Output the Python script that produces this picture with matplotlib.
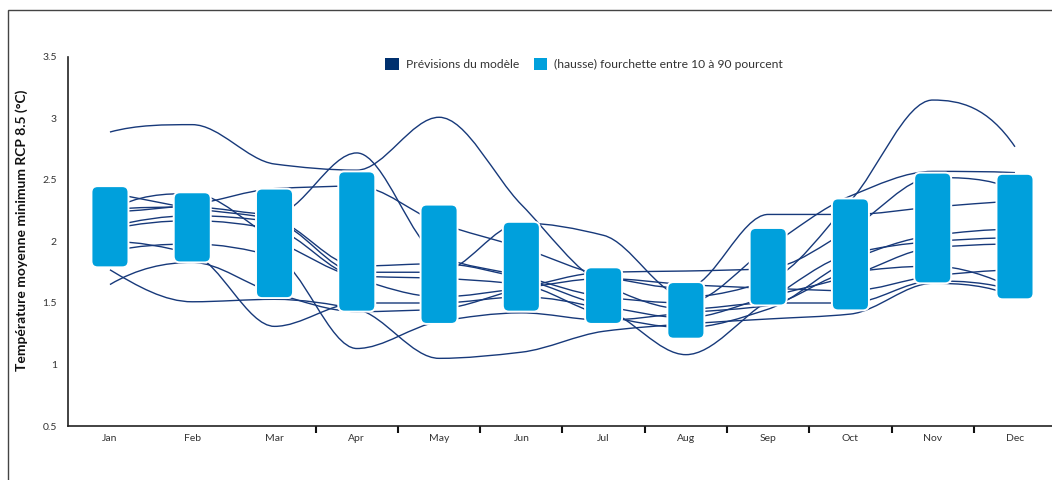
import numpy as np
import matplotlib
matplotlib.use("Agg")
import matplotlib.pyplot as plt
from matplotlib.path import Path
from matplotlib.patches import PathPatch, FancyBboxPatch, Patch, Rectangle

plt.rcParams["font.family"] = ["Lato", "DejaVu Sans"]

# ---- data -----------------------------------------------------------------
months = ["Jan", "Feb", "Mar", "Apr", "May", "Jun",
          "Jul", "Aug", "Sep", "Oct", "Nov", "Dec"]

# 10th / 90th percentile range of the projected increase (°C)
range_p10 = [1.79, 1.83, 1.54, 1.43, 1.33, 1.43, 1.33, 1.21, 1.48, 1.44, 1.66, 1.53]
range_p90 = [2.45, 2.40, 2.43, 2.57, 2.30, 2.16, 1.79, 1.67, 2.11, 2.35, 2.56, 2.55]

# individual model projections (°C)
model_01 = [2.89, 2.95, 2.63, 2.58, 3.01, 2.30, 1.65, 1.45, 1.50, 1.50, 1.68, 1.60]
model_02 = [2.24, 2.30, 2.43, 2.45, 2.15, 1.95, 1.72, 1.62, 2.22, 2.22, 2.28, 2.33]
model_03 = [2.26, 2.28, 2.22, 2.72, 1.88, 1.72, 1.55, 1.50, 1.95, 2.37, 2.57, 2.56]
model_04 = [2.40, 2.27, 2.18, 1.80, 1.82, 1.70, 1.48, 1.38, 1.55, 1.72, 1.95, 1.98]
model_05 = [2.12, 2.21, 2.16, 1.75, 1.75, 2.15, 2.05, 1.55, 1.68, 2.33, 3.15, 2.77]
model_06 = [2.10, 2.17, 2.10, 1.72, 1.70, 1.65, 1.40, 1.30, 1.45, 1.85, 2.05, 2.10]
model_07 = [2.25, 2.39, 2.02, 1.70, 1.55, 1.62, 1.70, 1.65, 1.62, 1.60, 1.72, 1.77]
model_08 = [1.92, 1.98, 1.88, 1.13, 1.35, 1.42, 1.36, 1.42, 1.48, 1.75, 1.80, 1.62]
model_09 = [2.00, 1.90, 1.31, 1.50, 1.50, 1.55, 1.45, 1.08, 1.52, 1.90, 2.00, 2.03]
model_10 = [1.65, 1.83, 1.58, 1.43, 1.45, 1.62, 1.75, 1.76, 1.78, 2.10, 2.52, 2.42]
model_11 = [1.77, 1.51, 1.53, 1.45, 1.05, 1.10, 1.27, 1.33, 1.37, 1.41, 1.66, 1.55]

y_ticks = [0.5, 1, 1.5, 2, 2.5, 3, 3.5]
y_tick_labels = ["0.5", "1", "1.5", "2", "2.5", "3", "3.5"]

# ---- style ----------------------------------------------------------------
LINE_COLOR = "#17397a"
NAVY = "#00306e"
BAND_COLOR = "#00a0dc"
TEXT_COLOR = "#333333"


def monotone_bezier(xs, ys):
    """Monotone cubic (Fritsch-Carlson) curve through the points, as a Bezier path."""
    xs = np.asarray(xs, float)
    ys = np.asarray(ys, float)
    h = np.diff(xs)
    d = np.diff(ys) / h
    n = len(xs)
    m = np.zeros(n)
    for k in range(1, n - 1):
        if d[k - 1] * d[k] > 0:
            w1 = 2 * h[k] + h[k - 1]
            w2 = h[k] + 2 * h[k - 1]
            m[k] = (w1 + w2) / (w1 / d[k - 1] + w2 / d[k])
    for k, (a, b) in ((0, (d[0], d[1])), (n - 1, (d[-1], d[-2]))):
        e = (3 * a - b) / 2
        if np.sign(e) != np.sign(a):
            e = 0.0
        elif np.sign(a) != np.sign(b) and abs(e) > abs(3 * a):
            e = 3 * a
        m[k] = e
    verts = [(xs[0], ys[0])]
    codes = [Path.MOVETO]
    for k in range(n - 1):
        dx = h[k] / 3
        verts += [(xs[k] + dx, ys[k] + m[k] * dx),
                  (xs[k + 1] - dx, ys[k + 1] - m[k + 1] * dx),
                  (xs[k + 1], ys[k + 1])]
        codes += [Path.CURVE4] * 3
    return Path(verts, codes)


fig = plt.figure(figsize=(10.52, 4.8), dpi=100)
ax = fig.add_axes([68 / 1052, 54 / 480, 984 / 1052, 369 / 480])

x = np.arange(len(months))

for series in [model_01, model_02, model_03, model_04, model_05, model_06,
               model_07, model_08, model_09, model_10, model_11]:
    ax.add_patch(PathPatch(monotone_bezier(x, series), facecolor="none",
                           edgecolor=LINE_COLOR, lw=1.0, zorder=2,
                           capstyle="butt"))

bar_w = 0.45
x_range = 11.96
y_range = 3.0
aspect = (y_range / 369) / (x_range / 984)
for xi, lo, hi in zip(x, range_p10, range_p90):
    ax.add_patch(FancyBboxPatch((xi - bar_w / 2, lo), bar_w, hi - lo,
                                boxstyle="round,pad=0,rounding_size=0.075",
                                mutation_aspect=aspect,
                                facecolor=BAND_COLOR, edgecolor="white",
                                lw=1.4, zorder=3))

ax.set_xlim(-0.51, 11.45)
ax.set_ylim(0.5, 3.5)

ax.set_yticks(y_ticks)
ax.set_yticklabels(y_tick_labels)
ax.set_xticks(x)
ax.set_xticklabels(months)
ax.set_xticks(np.arange(2.5, 11, 1), minor=True)

ax.tick_params(axis="y", length=0, pad=8, labelsize=7.5, labelcolor=TEXT_COLOR)
ax.tick_params(axis="x", which="major", length=0, pad=6, labelsize=7.5,
               labelcolor=TEXT_COLOR)
ax.tick_params(axis="x", which="minor", length=5, width=1.5, color="#111111",
               direction="out")

for side in ("top", "right"):
    ax.spines[side].set_visible(False)
for side in ("left", "bottom"):
    ax.spines[side].set_color("#222222")
    ax.spines[side].set_linewidth(1.2)

fig.text(22 / 1052, 1 - 230 / 480, "Température moyenne minimum RCP 8.5 (°C)",
         rotation=90, ha="center", va="center", fontsize=10,
         fontweight="bold", color="#111111")

handles = [Patch(facecolor=NAVY, edgecolor="none"),
           Patch(facecolor=BAND_COLOR, edgecolor="none")]
fig.legend(handles, ["Prévisions du modèle",
                     "(hausse) fourchette entre 10 à 90 pourcent"],
           loc="center", bbox_to_anchor=(584 / 1052, 1 - 64 / 480), ncol=2,
           frameon=False, fontsize=8.7, handlelength=1.1, handleheight=1.1,
           handletextpad=0.6, columnspacing=1.2, labelcolor=TEXT_COLOR)

# outer frame
fig.patches.append(Rectangle((8 / 1052, -0.05), 1.1, 0.05 + (480 - 10) / 480,
                             transform=fig.transFigure, fill=False,
                             edgecolor="#444444", lw=1.0))

fig.savefig("out.png", dpi=100)
